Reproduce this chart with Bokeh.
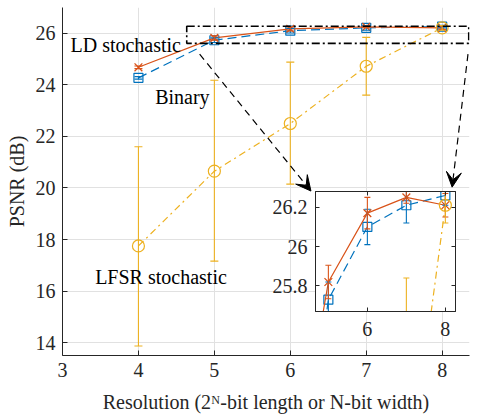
from bokeh.plotting import figure
from bokeh.models import (Range1d, FixedTicker, ColumnDataSource, Whisker, TeeHead,
                          Label, Arrow, VeeHead, LinearAxis, BoxAnnotation)
from bokeh.layouts import column
from bokeh.embed import file_html
from bokeh.resources import INLINE

# ---------------- data ----------------
resolution = [4, 5, 6, 7, 8]
binary_psnr = [24.27, 25.73, 26.10, 26.21, 26.26]
binary_err = [0.05, 0.09, 0.09, 0.09, 0.05]
ld_psnr = [24.68, 25.82, 26.17, 26.25, 26.21]
ld_err = [0.05, 0.085, 0.08, 0.03, 0.06]
lfsr_psnr = [17.75, 20.65, 22.50, 24.72, 26.21]
lfsr_lower = [13.87, 17.16, 20.15, 23.60, 26.12]
lfsr_upper = [21.60, 24.18, 24.88, 25.84, 26.30]

x_ticks = [3, 4, 5, 6, 7, 8]
y_ticks = [14, 16, 18, 20, 22, 24, 26]
inset_x_ticks = [6, 8]
inset_y_ticks = [25.8, 26, 26.2]
inset_y_labels = {25.8: "25.8", 26: "26", 26.2: "26.2"}

BLUE = "#0072BD"
ORANGE = "#D95319"
YELLOW = "#EDB120"
AX = "#262626"
FONT = "Liberation Serif"


def sources():
    b = ColumnDataSource(dict(x=resolution, y=binary_psnr,
                              lo=[v - e for v, e in zip(binary_psnr, binary_err)],
                              hi=[v + e for v, e in zip(binary_psnr, binary_err)]))
    l = ColumnDataSource(dict(x=resolution, y=ld_psnr,
                              lo=[v - e for v, e in zip(ld_psnr, ld_err)],
                              hi=[v + e for v, e in zip(ld_psnr, ld_err)]))
    f = ColumnDataSource(dict(x=resolution, y=lfsr_psnr, lo=lfsr_lower, hi=lfsr_upper))
    return b, l, f


def draw(fig, cap=8):
    b, l, f = sources()
    for src, col in ((b, BLUE), (l, ORANGE), (f, YELLOW)):
        w = Whisker(base="x", lower="lo", upper="hi", source=src,
                    line_color=col, line_width=1.1,
                    upper_head=TeeHead(size=cap, line_color=col, line_width=1.1),
                    lower_head=TeeHead(size=cap, line_color=col, line_width=1.1),
                    level="glyph")
        fig.add_layout(w)
    fig.line("x", "y", source=b, line_color=BLUE, line_width=1.2, line_dash="9 5")
    fig.scatter("x", "y", source=b, marker="square", size=9, line_color=BLUE,
                fill_alpha=0, line_width=1.2)
    fig.line("x", "y", source=l, line_color=ORANGE, line_width=1.2)
    fig.scatter("x", "y", source=l, marker="x", size=11, line_color=ORANGE, line_width=1.3)
    fig.line("x", "y", source=f, line_color=YELLOW, line_width=1.2, line_dash="7 4 2 4")
    fig.scatter("x", "y", source=f, marker="circle", size=12, line_color=YELLOW,
                fill_alpha=0, line_width=1.2)


def style_axis(ax, ticker, in_len=5):
    ax.ticker = FixedTicker(ticks=ticker)
    ax.major_tick_in = in_len
    ax.major_tick_out = 0
    ax.minor_tick_line_color = None
    ax.axis_line_color = AX
    ax.major_tick_line_color = AX
    ax.axis_line_width = 1
    ax.major_label_text_font = FONT
    ax.major_label_text_font_size = "20px"
    ax.major_label_text_color = AX


# ---------------- main figure ----------------
p = figure(width=479, height=419, x_range=Range1d(3, 8.36), y_range=Range1d(13.5, 27.0),
           output_backend="svg", toolbar_location=None,
           min_border_left=62, min_border_right=0, min_border_top=7, min_border_bottom=64)
p.outline_line_color = None
p.background_fill_color = "white"
p.border_fill_color = "white"

style_axis(p.xaxis[0], x_ticks)
style_axis(p.yaxis[0], y_ticks)
p.xaxis.major_label_standoff = 7
p.yaxis.major_label_standoff = 7
for ax, txt, sd in ((p.yaxis[0], "PSNR (dB)", 5),
                    (p.xaxis[0], "Resolution (2\u1d3a-bit length or N-bit width)", 11)):
    ax.axis_label = txt
    ax.axis_label_text_font = FONT
    ax.axis_label_text_font_size = "20px"
    ax.axis_label_text_font_style = "normal"
    ax.axis_label_text_color = AX
    ax.axis_label_standoff = sd

p.xgrid.ticker = FixedTicker(ticks=x_ticks)
p.ygrid.ticker = FixedTicker(ticks=y_ticks)
p.grid.grid_line_color = "#e1e1e1"
p.grid.grid_line_width = 1

draw(p)

# zoom box and arrows
p.add_layout(BoxAnnotation(left=4.636, right=8.35, bottom=25.61, top=26.27,
                           fill_alpha=0, line_color="black", line_alpha=1.0,
                           line_width=1.6, line_dash="8 3 2 3"))
for xs, ys, xe, ye in ((4.806, 25.19, 6.272, 19.88), (8.34, 25.19, 8.131, 20.03)):
    p.add_layout(Arrow(x_start=xs, y_start=ys, x_end=xe, y_end=ye,
                       line_color="black", line_width=1.2, line_dash="7 5",
                       end=VeeHead(size=15, fill_color="black", line_color="black")))

lab = dict(text_font=FONT, text_font_size="20px", text_color="black",
           text_baseline="alphabetic")
p.add_layout(Label(x=3.105, y=25.53, text="LD stochastic", **lab))
p.add_layout(Label(x=4.22, y=23.52, text="Binary", **lab))
p.add_layout(Label(x=3.43, y=16.54, text="LFSR stochastic", **lab))

# ---------------- inset ----------------
inset = figure(frame_width=140, frame_height=120,
               x_range=Range1d(4.67, 8.26), y_range=Range1d(25.67, 26.28),
               output_backend="svg", toolbar_location=None,
               min_border_left=60, min_border_right=10, min_border_top=10,
               min_border_bottom=40)
inset.border_fill_alpha = 0
inset.background_fill_color = "white"
inset.outline_line_color = AX
inset.outline_line_width = 1
inset.grid.visible = False
style_axis(inset.xaxis[0], inset_x_ticks, 4)
style_axis(inset.yaxis[0], inset_y_ticks, 4)
inset.yaxis.major_label_overrides = inset_y_labels
inset.xaxis.major_label_standoff = 10
inset.yaxis.major_label_standoff = 8
for loc, tk in (("right", inset_y_ticks), ("above", inset_x_ticks)):
    ax = LinearAxis()
    style_axis(ax, tk, 4)
    ax.major_label_text_alpha = 0
    ax.major_label_text_font_size = "1px"
    ax.major_label_standoff = 0
    inset.add_layout(ax, loc)

draw(inset, cap=6)

inset.styles = {"position": "absolute", "left": "253px", "top": "181px"}
layout = column(p, inset)

open("out.html", "w").write(file_html(layout, INLINE))
